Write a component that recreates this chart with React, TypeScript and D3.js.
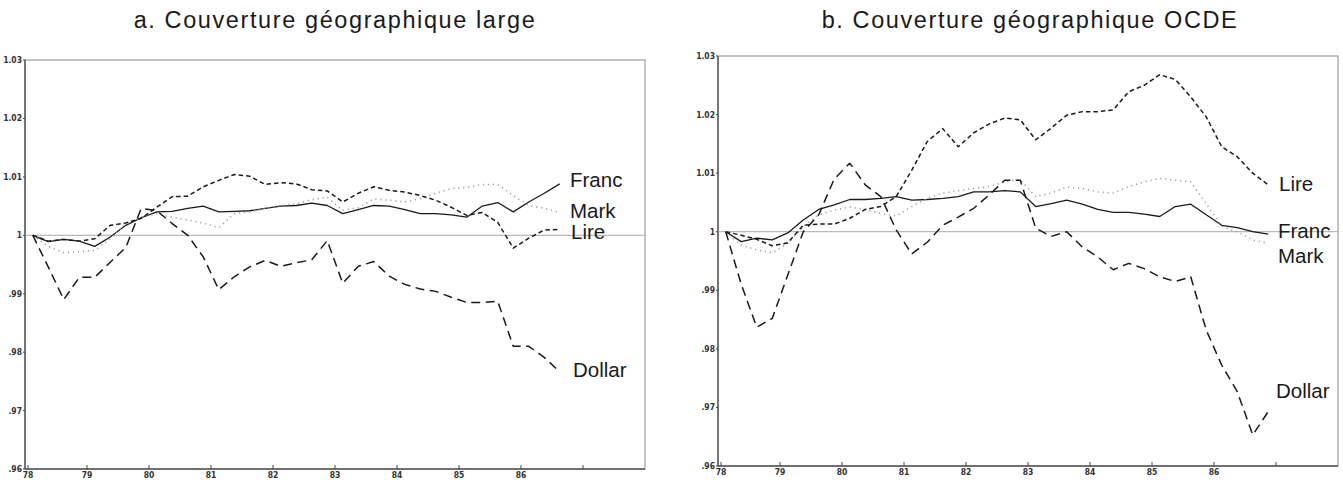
import React from "react";
import * as d3 from "d3";

// Quarterly observation times (fractional years)
const timesA = [78.125, 78.375, 78.625, 78.875, 79.125, 79.375, 79.625, 79.875, 80.125, 80.375, 80.625, 80.875, 81.125, 81.375, 81.625, 81.875, 82.125, 82.375, 82.625, 82.875, 83.125, 83.375, 83.625, 83.875, 84.125, 84.375, 84.625, 84.875, 85.125, 85.375, 85.625, 85.875, 86.125, 86.375, 86.625];
const timesB = [78.125, 78.375, 78.625, 78.875, 79.125, 79.375, 79.625, 79.875, 80.125, 80.375, 80.625, 80.875, 81.125, 81.375, 81.625, 81.875, 82.125, 82.375, 82.625, 82.875, 83.125, 83.375, 83.625, 83.875, 84.125, 84.375, 84.625, 84.875, 85.125, 85.375, 85.625, 85.875, 86.125, 86.375, 86.625, 86.875];

// Panel a: large geographic coverage
const francA = [1.000, 0.9989, 0.9993, 0.999, 0.9981, 0.9997, 1.0017, 1.003, 1.004, 1.0041, 1.0046, 1.005, 1.004, 1.0041, 1.0042, 1.0046, 1.005, 1.0051, 1.0055, 1.0051, 1.0037, 1.0044, 1.0051, 1.005, 1.0044, 1.0037, 1.0037, 1.0035, 1.0031, 1.005, 1.0056, 1.004, 1.0057, 1.0072, 1.0088];
const markA = [1.000, 0.9981, 0.997, 0.9972, 0.9974, 0.9994, 1.002, 1.0031, 1.0037, 1.0031, 1.0026, 1.0021, 1.0013, 1.0037, 1.004, 1.0046, 1.0051, 1.0054, 1.0061, 1.0065, 1.0043, 1.0047, 1.0062, 1.006, 1.0057, 1.0063, 1.0072, 1.008, 1.0082, 1.0087, 1.0087, 1.0068, 1.0051, 1.0046, 1.0039];
const lireA = [1.000, 0.999, 0.9993, 0.999, 0.9994, 1.0017, 1.0021, 1.0029, 1.0048, 1.0066, 1.0067, 1.0083, 1.0094, 1.0104, 1.0101, 1.0087, 1.009, 1.0088, 1.0078, 1.0076, 1.0057, 1.0072, 1.0083, 1.0077, 1.0074, 1.0068, 1.006, 1.0048, 1.0034, 1.0039, 1.0022, 0.9978, 0.9995, 1.0009, 1.001];
const dollarA = [1.000, 0.9946, 0.989, 0.9928, 0.9928, 0.9954, 0.9979, 1.0046, 1.0042, 1.002, 1.000, 0.9963, 0.9907, 0.9929, 0.9946, 0.9957, 0.9947, 0.9953, 0.9958, 0.9991, 0.9918, 0.9947, 0.9955, 0.993, 0.9916, 0.9908, 0.9904, 0.9894, 0.9885, 0.9885, 0.9887, 0.981, 0.981, 0.9791, 0.9766];

// Panel b: OECD coverage
const francB = [1.000, 0.9983, 0.9989, 0.9986, 0.9998, 1.002, 1.0038, 1.0046, 1.0055, 1.0055, 1.0057, 1.006, 1.0054, 1.0055, 1.0057, 1.006, 1.0068, 1.0068, 1.007, 1.0068, 1.0043, 1.0048, 1.0054, 1.0047, 1.0038, 1.0033, 1.0033, 1.003, 1.0026, 1.0043, 1.0047, 1.0029, 1.0011, 1.0007, 1.000, 0.9996];
const markB = [1.000, 0.9977, 0.9969, 0.9964, 0.998, 1.0009, 1.0029, 1.0037, 1.0042, 1.0038, 1.0031, 1.0027, 1.0043, 1.0057, 1.0066, 1.007, 1.0074, 1.0077, 1.0085, 1.0089, 1.006, 1.0066, 1.0076, 1.0074, 1.0068, 1.0066, 1.0077, 1.0085, 1.0091, 1.0088, 1.0085, 1.0048, 1.0009, 1.000, 0.9986, 0.998];
const lireB = [1.000, 0.9994, 0.9987, 0.9976, 0.9981, 1.0011, 1.0013, 1.0013, 1.0023, 1.0038, 1.0043, 1.006, 1.0105, 1.0154, 1.0176, 1.0145, 1.0169, 1.0184, 1.0194, 1.0191, 1.0157, 1.0177, 1.0199, 1.0205, 1.0205, 1.0208, 1.0239, 1.025, 1.0268, 1.026, 1.023, 1.0196, 1.0145, 1.0128, 1.01, 1.008];
const dollarB = [1.000, 0.991, 0.9837, 0.9852, 0.9926, 1.000, 1.0029, 1.009, 1.0117, 1.008, 1.006, 1.0003, 0.9962, 0.9982, 1.0011, 1.0025, 1.004, 1.0063, 1.0088, 1.0088, 1.0006, 0.9992, 1.000, 0.9974, 0.9957, 0.9935, 0.9946, 0.9937, 0.9923, 0.9915, 0.9923, 0.9832, 0.9772, 0.9727, 0.9653, 0.9693];

const yTicks = [0.96, 0.97, 0.98, 0.99, 1.0, 1.01, 1.02, 1.03];
const yTickLabels = [".96", ".97", ".98", ".99", "1", "1.01", "1.02", "1.03"];
const xTicks = [78, 79, 80, 81, 82, 83, 84, 85, 86, 87];
const xTickLabels = ["78", "79", "80", "81", "82", "83", "84", "85", "86", ""];

const seriesNames = ["Franc", "Mark", "Lire", "Dollar"];
const titles = ["a. Couverture géographique large", "b. Couverture géographique OCDE"];

const styles: Record<string, { dash: string; color: string; width: number }> = {
  Franc: { dash: "", color: "#1a1a1a", width: 1.3 },
  Mark: { dash: "1.2,3.8", color: "#a0a0a0", width: 1.6 },
  Lire: { dash: "4.5,3", color: "#1a1a1a", width: 1.5 },
  Dollar: { dash: "9,5.5", color: "#1a1a1a", width: 1.5 },
};

const panels = [
  {
    title: titles[0],
    titleX: 335,
    times: timesA,
    data: { Franc: francA, Mark: markA, Lire: lireA, Dollar: dollarA } as Record<string, number[]>,
    box: { x0: 25, x1: 645, y0: 60, y1: 469 },
    labels: { Franc: [570, 187], Mark: [570, 218], Lire: [571, 239], Dollar: [573, 377] } as Record<string, number[]>,
  },
  {
    title: titles[1],
    titleX: 1030,
    times: timesB,
    data: { Franc: francB, Mark: markB, Lire: lireB, Dollar: dollarB } as Record<string, number[]>,
    box: { x0: 718, x1: 1338, y0: 56, y1: 466 },
    labels: { Lire: [1279, 191], Franc: [1278, 238], Mark: [1278, 263], Dollar: [1276, 398] } as Record<string, number[]>,
  },
];

function Panel({ p }: { p: (typeof panels)[number] }) {
  const { box } = p;
  const x = d3.scaleLinear().domain([78, 88]).range([box.x0, box.x1]);
  const y = d3.scaleLinear().domain([0.96, 1.03]).range([box.y1, box.y0]);
  const tickFont = "'DejaVu Sans Condensed', 'DejaVu Sans', sans-serif";
  return (
    <g>
      <text
        x={p.titleX}
        y={28}
        textAnchor="middle"
        fontFamily="'Liberation Sans', Arial, sans-serif"
        fontSize={23.5}
        letterSpacing={1.6}
        fill="#1a1a1a"
      >
        {p.title}
      </text>
      {/* frame */}
      <rect x={box.x0} y={box.y0} width={box.x1 - box.x0} height={box.y1 - box.y0} fill="none" stroke="#8a8a8a" strokeWidth={1} />
      <line x1={box.x0} x2={box.x0} y1={box.y0} y2={box.y1} stroke="#555" strokeWidth={1.4} />
      <line x1={box.x0} x2={box.x1} y1={box.y1} y2={box.y1} stroke="#555" strokeWidth={1.4} />
      {/* reference line at 1 */}
      <line x1={box.x0} x2={box.x1} y1={y(1)} y2={y(1)} stroke="#a8a8a8" strokeWidth={1} />
      {/* y ticks */}
      {yTicks.map((t, i) => (
        <g key={"y" + i}>
          <line x1={box.x0 - 2} x2={box.x0} y1={y(t)} y2={y(t)} stroke="#444" />
          <text x={box.x0 - 3} y={y(t) + 3} textAnchor="end" fontFamily={tickFont} fontWeight="bold" fontSize={8.5} fill="#333">
            {yTickLabels[i]}
          </text>
        </g>
      ))}
      {/* x ticks */}
      {xTicks.map((t, i) => (
        <g key={"x" + i}>
          <line x1={x(t) + (i === 0 ? 3 : 0)} x2={x(t) + (i === 0 ? 3 : 0)} y1={box.y1 - 4} y2={box.y1} stroke="#444" />
          <text x={x(t) + (i === 0 ? 3 : 0)} y={box.y1 + 9} textAnchor="middle" fontFamily={tickFont} fontWeight="bold" fontSize={8.5} fill="#333">
            {xTickLabels[i]}
          </text>
        </g>
      ))}
      {/* series */}
      {seriesNames.map((name) => {
        const vals = p.data[name];
        const line = d3
          .line<number>()
          .x((_, i) => x(p.times[i]))
          .y((v) => y(v));
        const s = styles[name];
        return (
          <path
            key={name}
            d={line(vals) || ""}
            fill="none"
            stroke={s.color}
            strokeWidth={s.width}
            strokeDasharray={s.dash || undefined}
            strokeLinejoin="round"
          />
        );
      })}
      {/* labels */}
      {Object.keys(p.labels).map((name) => (
        <text
          key={"l" + name}
          x={p.labels[name][0]}
          y={p.labels[name][1]}
          fontFamily="'Liberation Sans', Arial, sans-serif"
          fontSize={20.5}
          fill="#1a1a1a"
        >
          {name}
        </text>
      ))}
    </g>
  );
}

export default function App() {
  return (
    <svg width={1343} height={480} style={{ position: "absolute", left: 0, top: 0, background: "#fff" }}>
      <rect width={1343} height={480} fill="#fff" />
      {panels.map((p, i) => (
        <Panel key={i} p={p} />
      ))}
    </svg>
  );
}
